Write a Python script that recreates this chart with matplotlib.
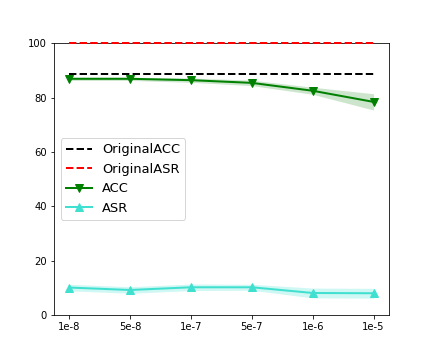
import matplotlib
matplotlib.use("Agg")
import matplotlib.pyplot as plt
import numpy as np

x_labels = ["1e-8", "5e-8", "1e-7", "5e-7", "1e-6", "1e-5"]
original_acc = 88.5
original_asr = 100.0
acc = [86.9, 86.9, 86.4, 85.4, 82.5, 78.4]
acc_std = [0.6, 0.6, 0.8, 1.0, 1.3, 3.0]
asr = [10.1, 9.2, 10.2, 10.2, 8.1, 8.0]
asr_std = [1.2, 1.2, 1.2, 1.1, 1.8, 1.8]

fig = plt.figure(figsize=(6, 5), dpi=72)
ax = fig.add_axes([0.125, 0.125, 0.775, 0.755])
x = np.arange(len(x_labels))
ax.plot(x, [original_acc] * len(x), "k--", lw=2, label="OriginalACC")
ax.plot(x, [original_asr] * len(x), "r--", lw=2, label="OriginalASR", clip_on=False, zorder=3)
acc = np.array(acc); acc_std = np.array(acc_std)
asr = np.array(asr); asr_std = np.array(asr_std)
ax.plot(x, acc, color="green", marker="v", markersize=8, lw=2, label="ACC")
ax.fill_between(x, acc - acc_std, acc + acc_std, color="green", alpha=0.2, lw=0)
ax.plot(x, asr, color="turquoise", marker="^", markersize=8, lw=2, label="ASR")
ax.fill_between(x, asr - asr_std, asr + asr_std, color="turquoise", alpha=0.25, lw=0)
ax.set_ylim(0, 100)
ax.set_xticks(x)
ax.set_xticklabels(x_labels)
ax.legend(loc="center left", fontsize=13)
fig.savefig("out.png", dpi=72)
